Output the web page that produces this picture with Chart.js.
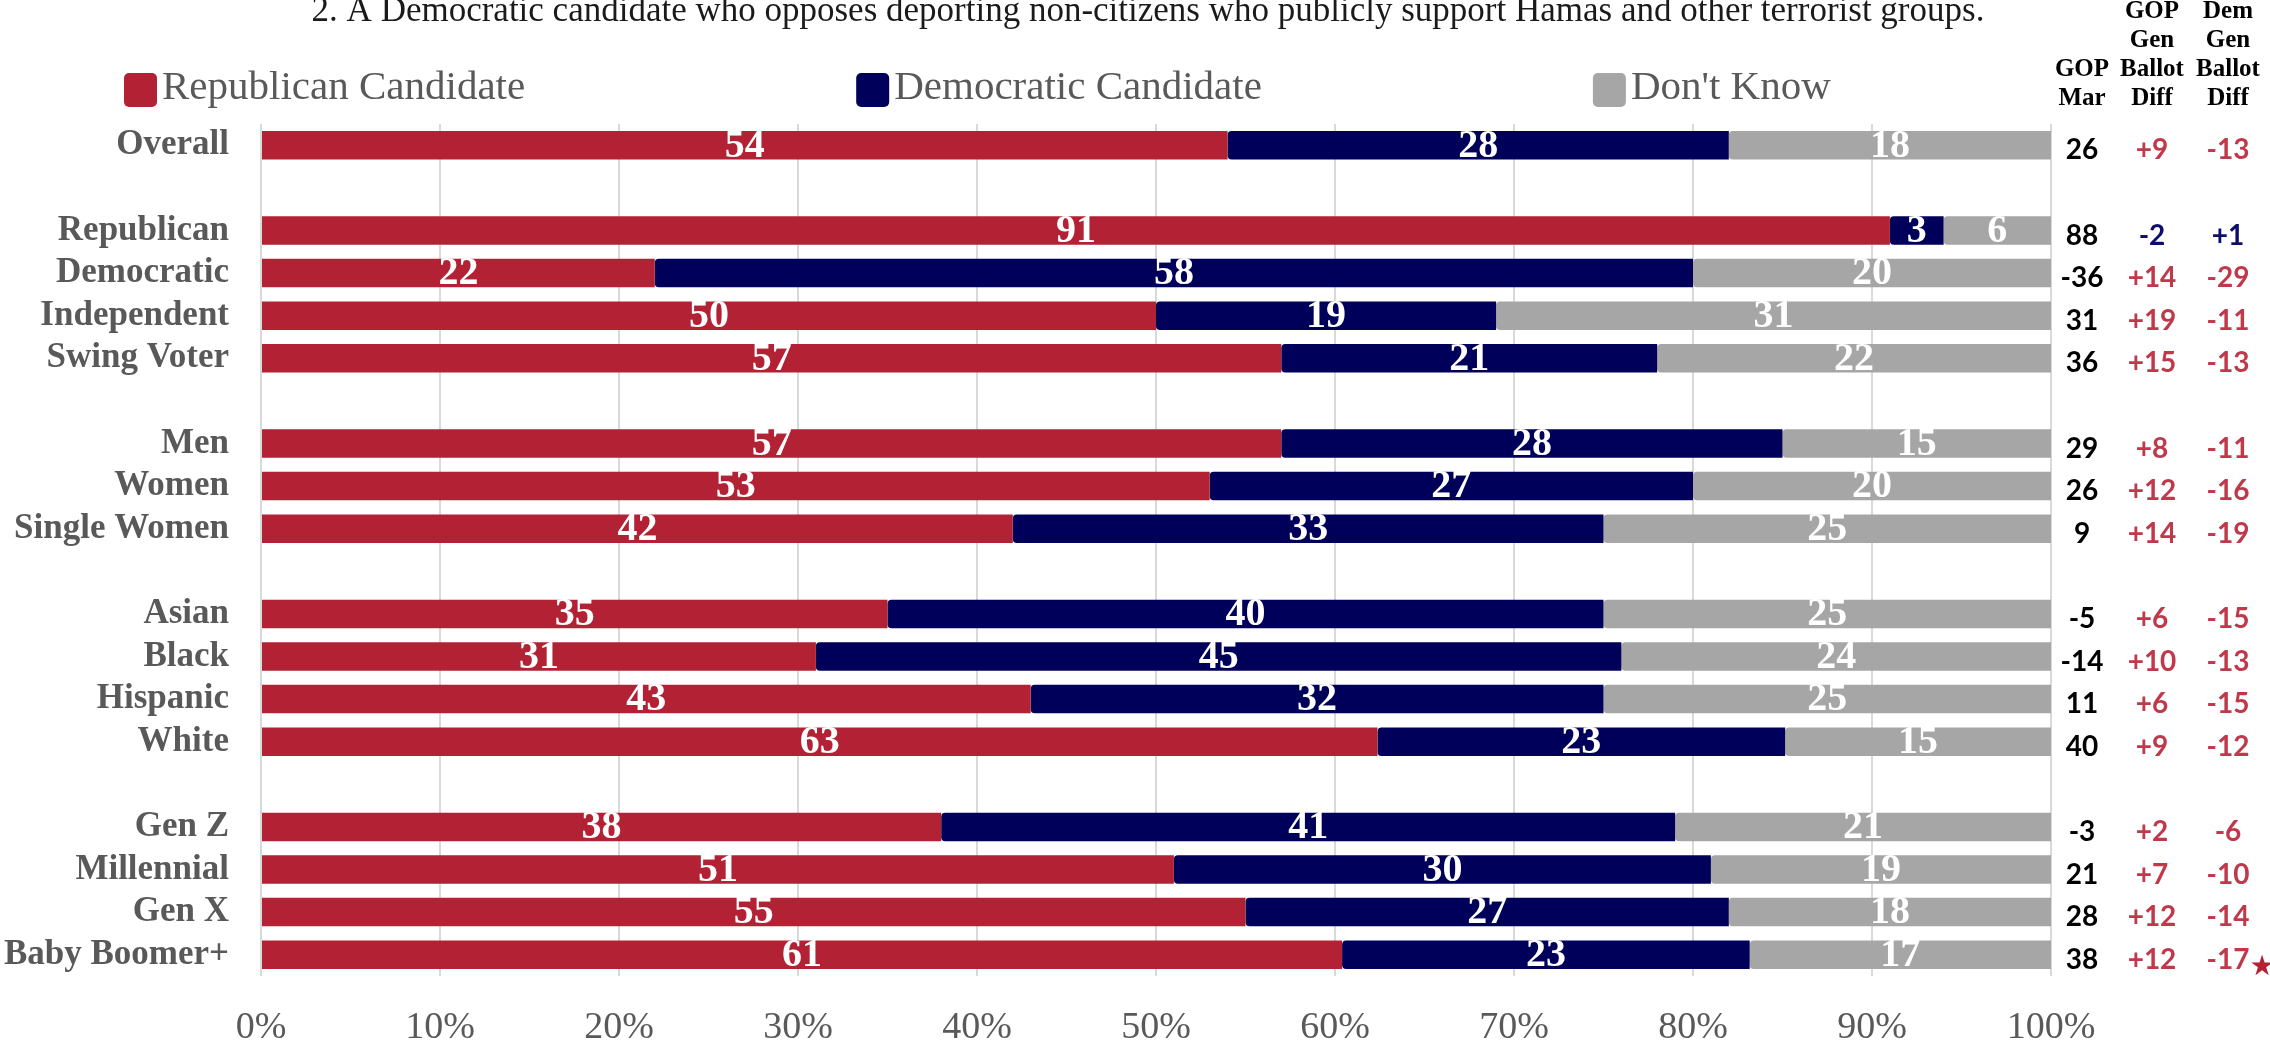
<!DOCTYPE html>
<html lang="en">
<head>
    <meta charset="UTF-8">
    <title>Deporting non-citizens who support Hamas</title>
    <script src="https://cdn.jsdelivr.net/npm/chart.js"></script>
    <style>
        body { margin: 0; background: #fff; }
        #wrap { width: 2270px; height: 1047px; position: relative; }
    </style>
</head>
<body>
    <div id="wrap"><canvas id="grafico"></canvas></div>

    <script>
        // dados
        const titleText = '2. A Democratic candidate who opposes deporting non-citizens who publicly support Hamas and other terrorist groups.';
        const legendLabels = ['Republican Candidate', 'Democratic Candidate', "Don't Know"];
        const categories = ['Overall', '', 'Republican', 'Democratic', 'Independent', 'Swing Voter', '',
            'Men', 'Women', 'Single Women', '', 'Asian', 'Black', 'Hispanic', 'White', '',
            'Gen Z', 'Millennial', 'Gen X', 'Baby Boomer+'];
        const repValues = [54, null, 91, 22, 50, 57, null, 57, 53, 42, null, 35, 31, 43, 63, null, 38, 51, 55, 61];
        const demValues = [28, null, 3, 58, 19, 21, null, 28, 27, 33, null, 40, 45, 32, 23, null, 41, 30, 27, 23];
        const dkValues = [18, null, 6, 20, 31, 22, null, 15, 20, 25, null, 25, 24, 25, 15, null, 21, 19, 18, 17];
        const gopMargin = ['26', '', '88', '-36', '31', '36', '', '29', '26', '9', '', '-5', '-14', '11', '40', '', '-3', '21', '28', '38'];
        const gopBallotDiff = ['+9', '', '-2', '+14', '+19', '+15', '', '+8', '+12', '+14', '', '+6', '+10', '+6', '+9', '', '+2', '+7', '+12', '+12'];
        const demBallotDiff = ['-13', '', '+1', '-29', '-11', '-13', '', '-11', '-16', '-19', '', '-15', '-13', '-15', '-12', '', '-6', '-10', '-14', '-17'];
        const columnHeaders = [['GOP', 'Mar'], ['GOP', 'Gen', 'Ballot', 'Diff'], ['Dem', 'Gen', 'Ballot', 'Diff']];
        const navyRows = ['Republican'];

        const RED = '#b22234', NAVY = '#00005a', GRAY = '#a6a6a6';
        const TXT = '#595959';
        const SERIF = '"Liberation Serif", "DejaVu Serif", serif';

        // barras em 100% (algumas linhas somam 101)
        function share(arr) {
            return arr.map((v, i) => {
                if (v === null) return null;
                const t = repValues[i] + demValues[i] + dkValues[i];
                return v / t * 100;
            });
        }

        const rawByDataset = [repValues, demValues, dkValues];

        const decoracao = {
            id: 'decoracao',
            afterDraw(chart) {
                const ctx = chart.ctx;
                const area = chart.chartArea;
                const y = chart.scales.y;
                ctx.save();

                // titulo (cortado no topo, como no original)
                ctx.fillStyle = '#1a1a1a';
                ctx.font = '35px ' + SERIF;
                ctx.textAlign = 'center';
                ctx.textBaseline = 'alphabetic';
                ctx.fillText(titleText, 1148, 21);

                // legenda
                const colors = [RED, NAVY, GRAY];
                ctx.textAlign = 'left';
                ctx.font = '41px ' + SERIF;
                let lx = 124;
                legendLabels.forEach((lbl, i) => {
                    ctx.fillStyle = colors[i];
                    ctx.beginPath();
                    ctx.roundRect(lx, 73, 33, 34, 5);
                    ctx.fill();
                    ctx.fillStyle = TXT;
                    ctx.fillText(lbl, lx + 38, 99);
                    lx += 38 + ctx.measureText(lbl).width + 331;
                });

                // colunas da direita
                const colX = [area.right + 31, area.right + 101, area.right + 177];
                ctx.fillStyle = '#000';
                ctx.textAlign = 'center';
                ctx.font = 'bold 25px ' + SERIF;
                columnHeaders.forEach((lines, c) => {
                    const start = 4 - lines.length;
                    lines.forEach((t, k) => ctx.fillText(t, colX[c], 18 + (start + k) * 29));
                });

                ctx.font = 'bold 28px Lato, "Liberation Sans", sans-serif';
                ctx.textBaseline = 'middle';
                categories.forEach((cat, i) => {
                    if (gopMargin[i] === '') return;
                    const py = y.getPixelForValue(i) + 5;
                    const diffColor = navyRows.includes(cat) ? '#0d0d6b' : '#c0394b';
                    ctx.fillStyle = '#000';
                    ctx.fillText(gopMargin[i], colX[0], py);
                    ctx.fillStyle = diffColor;
                    ctx.fillText(gopBallotDiff[i], colX[1], py);
                    ctx.fillText(demBallotDiff[i], colX[2], py);
                });

                // pedaço do logo no canto
                ctx.fillStyle = RED;
                ctx.font = '28px "DejaVu Sans", sans-serif';
                ctx.fillText('\u2605', 2262, 968);
                ctx.restore();
            }
        };

        const rotulos = {
            id: 'rotulos',
            afterDatasetsDraw(chart) {
                const ctx = chart.ctx;
                ctx.save();
                ctx.fillStyle = '#fff';
                ctx.font = 'bold 40px ' + SERIF;
                ctx.textAlign = 'center';
                ctx.textBaseline = 'middle';
                chart.data.datasets.forEach((ds, d) => {
                    chart.getDatasetMeta(d).data.forEach((el, i) => {
                        const raw = rawByDataset[d][i];
                        if (raw === null) return;
                        ctx.fillText(String(raw), (el.x + el.base) / 2, el.y + 1);
                    });
                });
                ctx.restore();
            }
        };

        const ctx = document.getElementById('grafico').getContext('2d');
        new Chart(ctx, {
            type: 'bar',
            data: {
                labels: categories,
                datasets: [
                    { label: legendLabels[0], data: share(repValues), backgroundColor: RED },
                    { label: legendLabels[1], data: share(demValues), backgroundColor: NAVY,
                      borderRadius: { topLeft: 4, bottomLeft: 4 }, borderSkipped: false },
                    { label: legendLabels[2], data: share(dkValues), backgroundColor: GRAY,
                      borderRadius: { topLeft: 4, bottomLeft: 4 }, borderSkipped: false }
                ]
            },
            options: {
                indexAxis: 'y',
                responsive: true,
                maintainAspectRatio: false,
                animation: false,
                barPercentage: 0.67,
                categoryPercentage: 1,
                layout: { padding: { top: 124, right: 219, bottom: 0, left: 0 } },
                plugins: {
                    legend: { display: false },
                    tooltip: { enabled: false }
                },
                scales: {
                    x: {
                        stacked: true,
                        min: 0,
                        max: 100,
                        ticks: {
                            stepSize: 10,
                            padding: 29,
                            color: TXT,
                            font: { family: SERIF, size: 38 },
                            callback: v => v + '%'
                        },
                        grid: { color: '#d9d9d9', lineWidth: 2, drawTicks: false },
                        border: { display: false },
                        afterFit: s => { s.height = 71; }
                    },
                    y: {
                        stacked: true,
                        ticks: {
                            autoSkip: false,
                            padding: 32,
                            color: TXT,
                            font: { family: SERIF, size: 35, weight: 'bold' }
                        },
                        grid: { display: false, drawTicks: false },
                        border: { display: false },
                        afterFit: s => { s.width = 261; }
                    }
                }
            },
            plugins: [rotulos, decoracao]
        });
    </script>
</body>
</html>
